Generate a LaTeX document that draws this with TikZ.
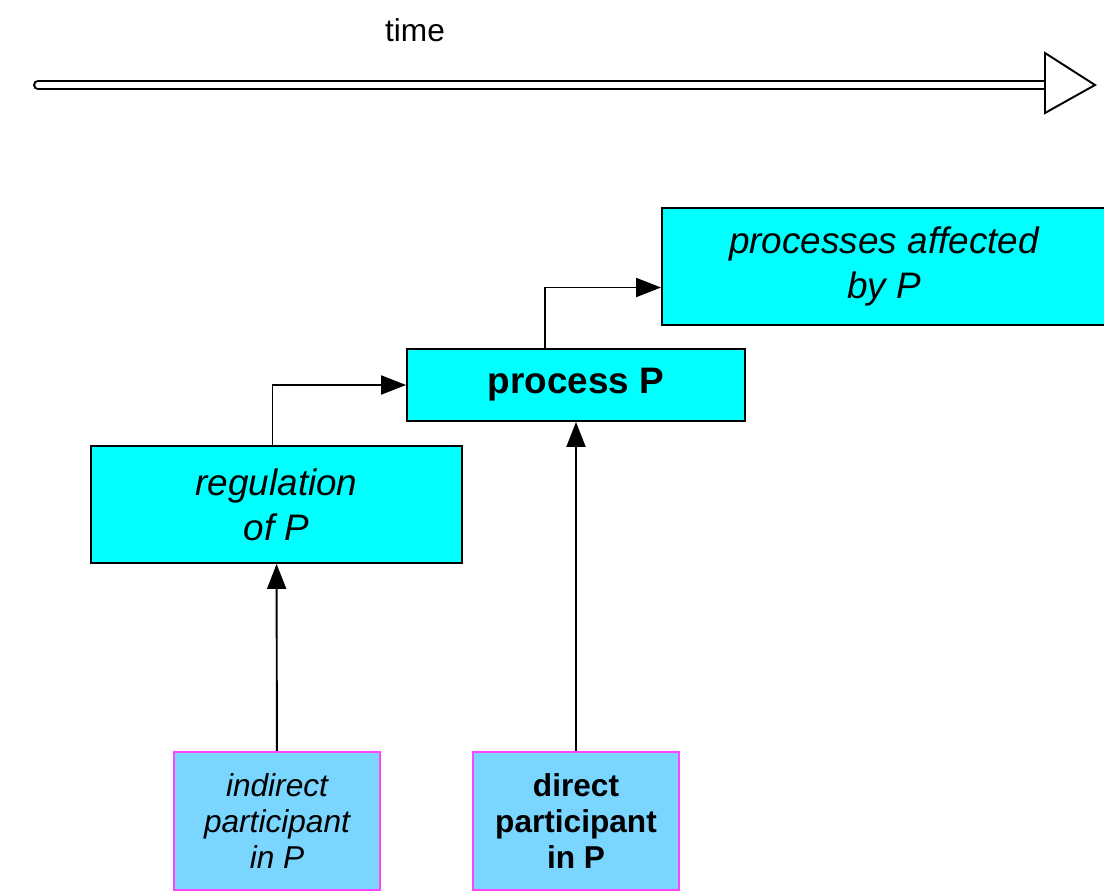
\documentclass[tikz,border=0pt]{standalone}
\usepackage{fontspec}
\setmainfont{Liberation Sans}
\usetikzlibrary{arrows.meta}
\definecolor{boxcyan}{HTML}{00FFFF}
\definecolor{partblue}{HTML}{7AD5FF}
\definecolor{partpink}{HTML}{FF44FF}
\begin{document}
\begin{tikzpicture}[x=0.02cm,y=-0.02cm,
  procbox/.style={draw=black,line width=1.1pt,fill=boxcyan,align=center,inner sep=0pt,
    font=\fontsize{21}{25.5}\selectfont},
  partbox/.style={draw=partpink,line width=1.3pt,fill=partblue,align=center,inner sep=0pt,
    minimum width=4.12cm,minimum height=2.76cm,font=\fontsize{18}{20.7}\selectfont},
  link/.style={line width=1.1pt,-{Triangle[length=0.5cm,width=0.38cm]}}]
  \useasboundingbox (0,0) rectangle (1104,893);
  % time axis
  \node (T) at (415,30) {\fontsize{18}{20}\selectfont time};
  \draw[line width=1.3pt,double=white,double distance=0.11cm,line cap=round] (38,85) -- (1045,85);
  \draw[line width=1.1pt,fill=white,line join=miter] (1045,53) -- (1095,85) -- (1045,113) -- cycle;
  % boxes
  \node[procbox,minimum width=8.88cm,minimum height=2.34cm] (aff)  at (884,266.5) {\itshape processes affected\\\itshape by P};
  \node[procbox,minimum width=6.76cm,minimum height=1.44cm] (proc) at (576,385) {\bfseries process P};
  \node[procbox,minimum width=7.42cm,minimum height=2.34cm] (reg)  at (276.5,504.5) {\itshape regulation\\\itshape of P};
  \node[partbox] (ind) at (277,821) {\itshape indirect\\\itshape participant\\\itshape in P};
  \node[partbox] (dir) at (576,821) {\bfseries direct\\\bfseries participant\\\bfseries in P};
  % connectors
  \draw[link] ([xshift=-0.08cm]reg.north) |- (proc.west);
  \draw[link] ([xshift=-0.62cm]proc.north) |- ([yshift=-0.42cm]aff.west);
  \draw[link] (ind) -- (reg);
  \draw[link] (dir) -- (proc);
\end{tikzpicture}
\end{document}
